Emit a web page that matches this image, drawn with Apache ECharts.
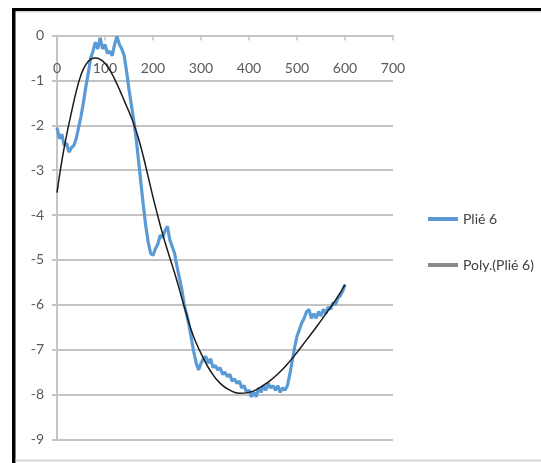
<!DOCTYPE html>
<html>
<head>
<meta charset="utf-8">
<script src="https://cdn.jsdelivr.net/npm/echarts@6/dist/echarts.min.js"></script>
<style>
  html, body { margin: 0; padding: 0; background: #ffffff; }
  #chart { width: 541px; height: 463px; }
</style>
</head>
<body>
<div id="chart"></div>
<script>
// Series names shown in the legend
const seriesNames = ['Plié 6', 'Poly.(Plié 6)'];

// Measured curve: one reading every 5 units, starting at 0
const plieStart = 0;
const plieStep = 5;
const plieValues = [
  -2.05, -2.3, -2.2, -2.45, -2.4, -2.6, -2.5, -2.45, -2.3, -2.05,
  -1.8, -1.5, -1.15, -0.85, -0.5, -0.35, -0.15, -0.3, -0.05, -0.3,
  -0.2, -0.4, -0.35, -0.45, -0.2, -0.02, -0.2, -0.3, -0.45, -0.8,
  -1.2, -1.55, -1.9, -2.3, -2.8, -3.3, -3.8, -4.25, -4.6, -4.85,
  -4.9, -4.75, -4.65, -4.45, -4.5, -4.35, -4.25, -4.55, -4.7, -4.85,
  -5.15, -5.4, -5.65, -6.0, -6.2, -6.45, -6.75, -7.05, -7.3, -7.45,
  -7.3, -7.2, -7.15, -7.3, -7.2, -7.4, -7.35, -7.45, -7.4, -7.55,
  -7.5, -7.6, -7.55, -7.7, -7.65, -7.75, -7.7, -7.85, -7.8, -7.95,
  -7.9, -8.05, -7.95, -8.05, -7.85, -7.95, -7.8, -7.9, -7.75, -7.85,
  -7.8, -7.9, -7.8, -7.95, -7.85, -7.9, -7.8, -7.55, -7.25, -6.95,
  -6.7, -6.55, -6.4, -6.3, -6.15, -6.1, -6.3, -6.2, -6.3, -6.15,
  -6.25, -6.1, -6.2, -6.05, -6.1, -5.95, -6.0, -5.85, -5.8, -5.7,
  -5.55
];

// Polynomial trendline, sampled
const trendX = [0, 10, 20, 30, 40, 50, 60, 70, 80, 90, 100, 110, 120, 130, 140, 150, 160, 170, 180, 190,
  200, 210, 220, 230, 240, 250, 260, 270, 280, 290, 300, 320, 340, 360, 380, 400, 420, 440, 460, 480,
  500, 520, 540, 560, 580, 600];
const trendY = [-3.5, -2.8, -2.22, -1.72, -1.25, -0.88, -0.65, -0.53, -0.5, -0.53, -0.62, -0.77, -0.97, -1.2, -1.45, -1.7, -1.97, -2.3, -2.7, -3.15,
  -3.6, -4.02, -4.42, -4.78, -5.12, -5.47, -5.85, -6.22, -6.57, -6.85, -7.08, -7.48, -7.75, -7.9, -7.97, -7.95, -7.86, -7.72, -7.54, -7.32,
  -7.06, -6.78, -6.5, -6.2, -5.9, -5.55];

// Axis ranges
const xRange = { min: 0, max: 700, interval: 100 };
const yRange = { min: -9, max: 0, interval: 1 };

const plieData = plieValues.map((v, i) => [plieStart + i * plieStep, v]);
const trendData = trendX.map((x, i) => [x, trendY[i]]);

const gridGrey = '#c4c4c4';
const labelFont = "Lato, 'Liberation Sans', sans-serif";

const chart = echarts.init(document.getElementById('chart'), null, { renderer: 'canvas' });

chart.setOption({
  animation: false,
  backgroundColor: '#ffffff',
  grid: { left: 57, top: 35.5, right: 148, bottom: 23.5, outerBoundsMode: 'none' },
  xAxis: {
    type: 'value',
    position: 'top',
    min: xRange.min, max: xRange.max, interval: xRange.interval,
    axisLine: { show: true, onZero: false, lineStyle: { color: gridGrey, width: 2 } },
    axisTick: { show: true, inside: true, length: 5, lineStyle: { color: gridGrey, width: 1.5 } },
    axisLabel: { inside: true, margin: 26, color: '#595959', fontSize: 14, fontFamily: labelFont },
    splitLine: { show: false }
  },
  yAxis: {
    type: 'value',
    min: yRange.min, max: yRange.max, interval: yRange.interval,
    axisLine: { show: true, onZero: false, lineStyle: { color: gridGrey, width: 2 } },
    axisTick: { show: true, length: 5, lineStyle: { color: gridGrey, width: 2 } },
    axisLabel: { margin: 13, color: '#595959', fontSize: 14, fontFamily: labelFont, padding: [4, 0, 0, 0] },
    splitLine: { show: true, lineStyle: { color: gridGrey, width: 2 } }
  },
  legend: {
    orient: 'vertical',
    left: 423,
    top: 207,
    itemWidth: 30,
    itemHeight: 4,
    itemGap: 32,
    icon: 'rect',
    textStyle: { color: '#404040', fontSize: 14, fontFamily: labelFont },
    data: [
      { name: seriesNames[0], itemStyle: { color: '#5b9bd5', borderWidth: 0 }, lineStyle: { color: '#5b9bd5', width: 0 } },
      { name: seriesNames[1], itemStyle: { color: '#8a8a8a', borderWidth: 0 }, lineStyle: { color: '#8a8a8a', width: 0 } }
    ]
  },
  series: [
    {
      name: seriesNames[0],
      type: 'line',
      data: plieData,
      showSymbol: false,
      symbol: 'none',
      lineStyle: { color: '#5b9bd5', width: 3.2 },
      itemStyle: { color: '#5b9bd5' },
      z: 2
    },
    {
      name: seriesNames[1],
      type: 'line',
      data: trendData,
      smooth: true,
      showSymbol: false,
      symbol: 'none',
      lineStyle: { color: '#1a1a1a', width: 1.5 },
      itemStyle: { color: '#8a8a8a' },
      z: 3
    }
  ],
  graphic: [
    // outer frame
    { type: 'rect', shape: { x: 12, y: 8, width: 529, height: 3 }, style: { fill: '#000000' }, silent: true },
    { type: 'rect', shape: { x: 12, y: 11, width: 529, height: 1.5 }, style: { fill: '#d6d6d6' }, silent: true },
    { type: 'rect', shape: { x: 12, y: 8, width: 3.5, height: 455 }, style: { fill: '#000000' }, silent: true },
    { type: 'rect', shape: { x: 15.5, y: 459.5, width: 526, height: 2 }, style: { fill: '#d8d8d8' }, silent: true }
  ]
});
</script>
</body>
</html>
